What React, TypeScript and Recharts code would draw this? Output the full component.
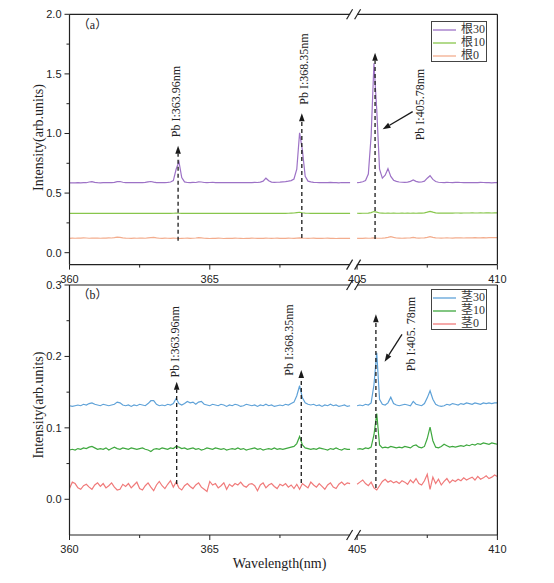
import React from 'react';
import { LineChart, Line, XAxis, YAxis, ReferenceLine, ReferenceDot, Legend } from 'recharts';

// ---------- axis / break definitions ----------
const LEFT_FROM = 360;
const LEFT_TO = 370;
const RIGHT_FROM = 405;
const RIGHT_TO = 410;
const STEP = 0.1;
const BREAK_GAP = 0.25;

const X_TICK_WL = [360, 362.5, 365, 367.5, 405, 407.5, 410];
const X_MAJOR_WL = [360, 365, 405, 410];

const Y_TICKS_A = [0, 0.25, 0.5, 0.75, 1, 1.25, 1.5, 1.75, 2];
const Y_MAJOR_A = [0, 0.5, 1, 1.5, 2];
const Y_TICKS_B = [0, 0.05, 0.1, 0.15, 0.2, 0.25, 0.3];
const Y_MAJOR_B = [0, 0.1, 0.2, 0.3];

// ---------- panel (a) : root ----------
const ROOT30_LEFT = [
  0.585, 0.586, 0.585, 0.587, 0.586, 0.588, 0.587, 0.593, 0.596, 0.590,
  0.587, 0.586, 0.588, 0.587, 0.589, 0.588, 0.590, 0.596, 0.597, 0.591,
  0.588, 0.587, 0.589, 0.588, 0.587, 0.589, 0.588, 0.590, 0.594, 0.597,
  0.592, 0.588, 0.587, 0.589, 0.588, 0.590, 0.593, 0.605, 0.700, 0.765,
  0.630, 0.594, 0.589, 0.588, 0.590, 0.589, 0.594, 0.593, 0.589, 0.588,
  0.589, 0.591, 0.588, 0.587, 0.589, 0.588, 0.587, 0.589, 0.588, 0.587,
  0.588, 0.589, 0.587, 0.588, 0.589, 0.588, 0.590, 0.589, 0.592, 0.600,
  0.625, 0.603, 0.592, 0.590, 0.591, 0.592, 0.594, 0.596, 0.600, 0.605,
  0.618, 0.700, 1.005, 0.860, 0.640, 0.600, 0.594, 0.590, 0.589, 0.588,
  0.589, 0.587, 0.588, 0.590, 0.587, 0.588, 0.586, 0.589, 0.588, 0.587,
  0.588,
];
const ROOT30_RIGHT = [
  0.588, 0.590, 0.595, 0.605, 0.660, 0.980, 1.590, 1.200, 0.700, 0.625,
  0.650, 0.705, 0.640, 0.608, 0.598, 0.593, 0.591, 0.590, 0.592, 0.598,
  0.610, 0.598, 0.592, 0.593, 0.600, 0.625, 0.646, 0.615, 0.597, 0.591,
  0.589, 0.588, 0.590, 0.589, 0.588, 0.590, 0.591, 0.589, 0.588, 0.587,
  0.588, 0.589, 0.587, 0.588, 0.590, 0.589, 0.587, 0.588, 0.586, 0.587,
  0.587,
];
const ROOT10_LEFT = [
  0.330, 0.331, 0.330, 0.330, 0.331, 0.330, 0.331, 0.330, 0.330, 0.331,
  0.330, 0.331, 0.330, 0.330, 0.331, 0.330, 0.330, 0.331, 0.330, 0.330,
  0.331, 0.330, 0.330, 0.331, 0.330, 0.330, 0.331, 0.330, 0.330, 0.331,
  0.330, 0.330, 0.331, 0.330, 0.330, 0.331, 0.330, 0.331, 0.332, 0.331,
  0.330, 0.331, 0.330, 0.330, 0.331, 0.330, 0.330, 0.331, 0.330, 0.330,
  0.331, 0.330, 0.330, 0.331, 0.330, 0.330, 0.331, 0.330, 0.330, 0.331,
  0.330, 0.330, 0.331, 0.330, 0.330, 0.331, 0.330, 0.330, 0.331, 0.330,
  0.331, 0.330, 0.330, 0.331, 0.330, 0.330, 0.331, 0.330, 0.331, 0.332,
  0.333, 0.336, 0.339, 0.335, 0.332, 0.331, 0.330, 0.331, 0.330, 0.330,
  0.331, 0.330, 0.330, 0.331, 0.330, 0.330, 0.331, 0.330, 0.330, 0.331,
  0.330,
];
const ROOT10_RIGHT = [
  0.331, 0.330, 0.331, 0.331, 0.332, 0.336, 0.345, 0.340, 0.333, 0.332,
  0.331, 0.332, 0.331, 0.332, 0.331, 0.331, 0.332, 0.331, 0.332, 0.331,
  0.332, 0.331, 0.332, 0.332, 0.334, 0.340, 0.347, 0.340, 0.334, 0.332,
  0.332, 0.333, 0.332, 0.333, 0.332, 0.333, 0.333, 0.332, 0.333, 0.333,
  0.333, 0.334, 0.333, 0.333, 0.334, 0.333, 0.334, 0.334, 0.333, 0.334,
  0.334,
];
const ROOT0_LEFT = [
  0.120, 0.122, 0.121, 0.123, 0.122, 0.124, 0.123, 0.121, 0.122, 0.123,
  0.122, 0.121, 0.123, 0.122, 0.124, 0.123, 0.126, 0.130, 0.128, 0.124,
  0.122, 0.121, 0.120, 0.122, 0.121, 0.123, 0.122, 0.121, 0.124, 0.127,
  0.128, 0.124, 0.121, 0.120, 0.122, 0.121, 0.120, 0.122, 0.121, 0.119,
  0.120, 0.121, 0.122, 0.120, 0.121, 0.123, 0.126, 0.124, 0.121, 0.120,
  0.119, 0.121, 0.120, 0.122, 0.121, 0.119, 0.120, 0.121, 0.120, 0.122,
  0.121, 0.120, 0.119, 0.121, 0.120, 0.122, 0.121, 0.120, 0.121, 0.120,
  0.122, 0.121, 0.120, 0.121, 0.122, 0.120, 0.121, 0.120, 0.122, 0.121,
  0.120, 0.122, 0.124, 0.122, 0.121, 0.120, 0.121, 0.122, 0.120, 0.121,
  0.120, 0.121, 0.122, 0.120, 0.121, 0.119, 0.120, 0.121, 0.120, 0.121,
  0.120,
];
const ROOT0_RIGHT = [
  0.120, 0.121, 0.120, 0.122, 0.121, 0.122, 0.124, 0.122, 0.121, 0.122,
  0.124, 0.129, 0.135, 0.128, 0.123, 0.122, 0.121, 0.122, 0.123, 0.124,
  0.129, 0.124, 0.122, 0.123, 0.124, 0.129, 0.135, 0.128, 0.124, 0.123,
  0.122, 0.123, 0.124, 0.123, 0.122, 0.124, 0.125, 0.124, 0.123, 0.125,
  0.124, 0.125, 0.126, 0.125, 0.124, 0.126, 0.125, 0.126, 0.127, 0.126,
  0.127,
];

// ---------- panel (b) : stem ----------
const STEM30_LEFT = [
  0.131, 0.130, 0.131, 0.132, 0.131, 0.133, 0.132, 0.134, 0.135, 0.133,
  0.132, 0.131, 0.133, 0.132, 0.131, 0.132, 0.133, 0.136, 0.135, 0.132,
  0.131, 0.132, 0.130, 0.132, 0.131, 0.133, 0.132, 0.131, 0.134, 0.138,
  0.138, 0.133, 0.131, 0.132, 0.131, 0.133, 0.132, 0.134, 0.141, 0.134,
  0.132, 0.134, 0.137, 0.135, 0.136, 0.133, 0.136, 0.137, 0.133, 0.132,
  0.131, 0.133, 0.132, 0.131, 0.133, 0.132, 0.130, 0.132, 0.131, 0.133,
  0.132, 0.130, 0.131, 0.133, 0.132, 0.131, 0.132, 0.130, 0.132, 0.131,
  0.133, 0.131, 0.132, 0.130, 0.131, 0.132, 0.131, 0.133, 0.132, 0.134,
  0.136, 0.145, 0.159, 0.142, 0.135, 0.133, 0.132, 0.133, 0.131, 0.132,
  0.130, 0.132, 0.131, 0.133, 0.131, 0.132, 0.130, 0.131, 0.132, 0.130,
  0.131,
];
const STEM30_RIGHT = [
  0.131, 0.132, 0.131, 0.133, 0.132, 0.135, 0.160, 0.205, 0.140, 0.133,
  0.132, 0.135, 0.143, 0.134, 0.132, 0.131, 0.132, 0.133, 0.132, 0.131,
  0.137, 0.133, 0.132, 0.131, 0.134, 0.142, 0.152, 0.140, 0.133, 0.131,
  0.130, 0.131, 0.133, 0.132, 0.134, 0.133, 0.132, 0.134, 0.133, 0.135,
  0.134, 0.133, 0.135, 0.134, 0.133, 0.135, 0.134, 0.135, 0.134, 0.135,
  0.135,
];
const STEM10_LEFT = [
  0.069, 0.070, 0.069, 0.071, 0.070, 0.072, 0.071, 0.073, 0.074, 0.072,
  0.070, 0.071, 0.070, 0.072, 0.069, 0.071, 0.073, 0.071, 0.070, 0.072,
  0.071, 0.070, 0.072, 0.071, 0.070, 0.071, 0.072, 0.070, 0.069, 0.067,
  0.070, 0.071, 0.070, 0.072, 0.071, 0.070, 0.072, 0.071, 0.074, 0.073,
  0.071, 0.072, 0.070, 0.071, 0.072, 0.070, 0.071, 0.069, 0.070, 0.072,
  0.071, 0.070, 0.072, 0.071, 0.070, 0.071, 0.069, 0.070, 0.071, 0.070,
  0.072, 0.070, 0.071, 0.069, 0.070, 0.071, 0.072, 0.070, 0.071, 0.069,
  0.070, 0.071, 0.070, 0.072, 0.070, 0.071, 0.070, 0.071, 0.072, 0.073,
  0.074, 0.078, 0.088, 0.076, 0.072, 0.071, 0.070, 0.071, 0.070, 0.072,
  0.071, 0.070, 0.069, 0.071, 0.070, 0.072, 0.070, 0.069, 0.071, 0.070,
  0.070,
];
const STEM10_RIGHT = [
  0.070, 0.071, 0.070, 0.072, 0.071, 0.073, 0.090, 0.120, 0.076, 0.072,
  0.073, 0.072, 0.074, 0.073, 0.072, 0.073, 0.072, 0.074, 0.073, 0.072,
  0.075, 0.076, 0.073, 0.072, 0.074, 0.085, 0.101, 0.082, 0.073, 0.072,
  0.074, 0.077, 0.075, 0.073, 0.074, 0.073, 0.074, 0.075, 0.074, 0.076,
  0.075, 0.077, 0.076, 0.078, 0.077, 0.079, 0.078, 0.077, 0.079, 0.078,
  0.077,
];
const STEM0_LEFT = [
  0.015, 0.024, 0.022, 0.016, 0.014, 0.019, 0.021, 0.017, 0.014, 0.020,
  0.023, 0.018, 0.022, 0.016, 0.019, 0.023, 0.017, 0.013, 0.014, 0.021,
  0.018, 0.022, 0.016, 0.020, 0.024, 0.015, 0.013, 0.019, 0.023, 0.017,
  0.012, 0.020, 0.025, 0.019, 0.015, 0.021, 0.026, 0.017, 0.024, 0.016,
  0.013, 0.019, 0.022, 0.018, 0.015, 0.020, 0.023, 0.017, 0.014, 0.011,
  0.025, 0.020, 0.022, 0.016, 0.019, 0.023, 0.014, 0.021, 0.018, 0.022,
  0.020, 0.024, 0.019, 0.017, 0.021, 0.022, 0.019, 0.012, 0.020, 0.023,
  0.016, 0.020, 0.022, 0.018, 0.015, 0.021, 0.019, 0.022, 0.017, 0.020,
  0.015, 0.021, 0.014, 0.022, 0.019, 0.016, 0.024, 0.020, 0.017, 0.022,
  0.018, 0.014, 0.020, 0.023, 0.017, 0.015, 0.021, 0.024, 0.020, 0.023,
  0.022,
];
const STEM0_RIGHT = [
  0.021, 0.024, 0.027, 0.022, 0.019, 0.024, 0.016, 0.013, 0.019, 0.025,
  0.028, 0.024, 0.026, 0.023, 0.025, 0.022, 0.026, 0.024, 0.021, 0.027,
  0.023, 0.029, 0.022, 0.020, 0.026, 0.035, 0.014, 0.031, 0.022, 0.028,
  0.020, 0.025, 0.029, 0.023, 0.027, 0.025, 0.028, 0.026, 0.030, 0.027,
  0.029, 0.031, 0.027, 0.032, 0.028, 0.030, 0.033, 0.029, 0.031, 0.034,
  0.032,
];

const SERIES_A_NAMES = ['根30', '根10', '根0'];
const SERIES_A_COLORS = ['#9d72c6', '#88c64c', '#f3ad8e'];
const SERIES_B_NAMES = ['茎30', '茎10', '茎0'];
const SERIES_B_COLORS = ['#5fa2d8', '#3fa83f', '#f07a7a'];

// annotations (wavelength, intensity)
const ARROWS_A = [
  { wl: 363.87, from: 0.10, to: 0.898 },
  { wl: 368.28, from: 0.123, to: 1.169 },
  { wl: 405.64, from: 0.115, to: 1.678 },
];
const LABELS_A = [
  { wl: 363.81, v: 1.268, text: 'Pb I:363.96nm' },
  { wl: 368.36, v: 1.541, text: 'Pb I:368.35nm' },
  { wl: 407.23, v: 1.242, text: 'Pb I:405.78nm' },
];
const POINTER_A = { wl1: 406.98, v1: 1.183, wl2: 405.91, v2: 1.035 };

const ARROWS_B = [
  { wl: 363.82, from: 0.0214, to: 0.1646 },
  { wl: 368.26, from: 0.0228, to: 0.181 },
  { wl: 405.67, from: 0.0158, to: 0.259 },
];
const LABELS_B = [
  { wl: 363.77, v: 0.2206, text: 'Pb I:363.96nm' },
  { wl: 367.83, v: 0.223, text: 'Pb I:368.35nm' },
  { wl: 406.92, v: 0.2314, text: 'Pb I:405. 78nm' },
];
const POINTER_B = { wl1: 406.6, v1: 0.231, wl2: 405.98, v2: 0.1926 };

// ---------- helpers ----------
const SERIF = '"Liberation Serif", "Times New Roman", "Noto Sans CJK SC", serif';
const SANS = '"Liberation Sans", Arial, sans-serif';
const AXIS = '#222';

const round2 = (v: number) => Math.round(v * 100) / 100;
const toPos = (w: number) =>
  w <= LEFT_TO + 1e-6 ? w - LEFT_FROM : w - RIGHT_FROM + (LEFT_TO - LEFT_FROM) + BREAK_GAP;
const X_MAX = toPos(RIGHT_TO);
const SEG_END = LEFT_TO - LEFT_FROM;
const SEG_START = SEG_END + BREAK_GAP;
const BREAK_POS = SEG_END + BREAK_GAP / 2;

type Series = { key: string; name: string; color: string; left: number[]; right: number[] };

function buildRows(series: Series[]) {
  const rows: any[] = [];
  series[0].left.forEach((_, i) => {
    const row: any = { x: toPos(round2(LEFT_FROM + i * STEP)) };
    series.forEach((s) => (row[s.key] = s.left[i]));
    rows.push(row);
  });
  const gap: any = { x: BREAK_POS };
  series.forEach((s) => (gap[s.key] = null));
  rows.push(gap);
  series[0].right.forEach((_, i) => {
    const row: any = { x: toPos(round2(RIGHT_FROM + i * STEP)) };
    series.forEach((s) => (row[s.key] = s.right[i]));
    rows.push(row);
  });
  return rows;
}

const SERIES_A: Series[] = [
  { key: 'a30', name: SERIES_A_NAMES[0], color: SERIES_A_COLORS[0], left: ROOT30_LEFT, right: ROOT30_RIGHT },
  { key: 'a10', name: SERIES_A_NAMES[1], color: SERIES_A_COLORS[1], left: ROOT10_LEFT, right: ROOT10_RIGHT },
  { key: 'a0', name: SERIES_A_NAMES[2], color: SERIES_A_COLORS[2], left: ROOT0_LEFT, right: ROOT0_RIGHT },
];
const SERIES_B: Series[] = [
  { key: 'b30', name: SERIES_B_NAMES[0], color: SERIES_B_COLORS[0], left: STEM30_LEFT, right: STEM30_RIGHT },
  { key: 'b10', name: SERIES_B_NAMES[1], color: SERIES_B_COLORS[1], left: STEM10_LEFT, right: STEM10_RIGHT },
  { key: 'b0', name: SERIES_B_NAMES[2], color: SERIES_B_COLORS[2], left: STEM0_LEFT, right: STEM0_RIGHT },
];

const XTick = (props: any) => {
  const { x, y, payload } = props;
  const idx = X_TICK_WL.findIndex((w) => Math.abs(toPos(w) - payload.value) < 1e-6);
  const wl = idx >= 0 ? X_TICK_WL[idx] : null;
  const major = wl !== null && X_MAJOR_WL.includes(wl);
  return (
    <g>
      <line x1={x} y1={y} x2={x} y2={y + (major ? 5 : 3)} stroke={AXIS} strokeWidth={1} />
      {major && (
        <text x={x} y={y + 14} textAnchor="middle" dominantBaseline="central" fontFamily={SANS} fontSize={11} fill="#222">
          {String(wl)}
        </text>
      )}
    </g>
  );
};

const makeYTick = (majors: number[]) => (props: any) => {
  const { x, y, payload } = props;
  const v = payload.value;
  const major = majors.some((m) => Math.abs(m - v) < 1e-6);
  return (
    <g>
      <line x1={x} y1={y} x2={x - (major ? 5 : 3)} y2={y} stroke={AXIS} strokeWidth={1} />
      {major && (
        <text x={x - 8} y={y} textAnchor="end" dominantBaseline="central" fontFamily={SANS} fontSize={11} fill="#222">
          {v.toFixed(1)}
        </text>
      )}
    </g>
  );
};

const arrowShape = (dashed: boolean) => (p: any) => {
  const { x1, y1, x2, y2 } = p;
  const dx = x2 - x1;
  const dy = y2 - y1;
  const len = Math.hypot(dx, dy) || 1;
  const ux = dx / len;
  const uy = dy / len;
  const hl = 8;
  const hw = 2.8;
  const bx = x2 - ux * hl;
  const by = y2 - uy * hl;
  return (
    <g>
      <line x1={x1} y1={y1} x2={bx} y2={by} stroke="#1a1a1a" strokeWidth={1.3} strokeDasharray={dashed ? '4 3' : undefined} />
      <polygon
        points={`${x2},${y2} ${bx - uy * hw},${by + ux * hw} ${bx + uy * hw},${by - ux * hw}`}
        fill="#1a1a1a"
      />
    </g>
  );
};

const rotatedText = (text: string) => (p: any) => (
  <text
    x={p.cx}
    y={p.cy}
    transform={`rotate(-90 ${p.cx} ${p.cy})`}
    textAnchor="middle"
    dominantBaseline="central"
    fontFamily={SERIF}
    fontSize={12}
    fill="#222"
  >
    {text}
  </text>
);

const plainText = (text: string) => (p: any) => (
  <text x={p.cx} y={p.cy} textAnchor="middle" dominantBaseline="central" fontFamily={SERIF} fontSize={12} fill="#222">
    {text}
  </text>
);

const breakShape = (p: any) => {
  const { cx, cy } = p;
  return (
    <g>
      {[-4, 4].map((d) => (
        <line key={d} x1={cx + d - 3} y1={cy + 5} x2={cx + d + 3} y2={cy - 5} stroke={AXIS} strokeWidth={1.2} />
      ))}
    </g>
  );
};

const LegendBox = ({ series }: { series: Series[] }) => (
  <div
    style={{
      border: '1.5px solid #444',
      background: '#fff',
      boxSizing: 'border-box',
      width: 56,
      height: 41,
      padding: '1px 0 0 1px',
      whiteSpace: 'nowrap',
      overflow: 'hidden',
    }}
  >
    {series.map((s) => (
      <div key={s.key} style={{ display: 'flex', alignItems: 'center', height: 13, whiteSpace: 'nowrap' }}>
        <svg width={23} height={4} style={{ display: 'block', flex: 'none' }}>
          <line x1={0} y1={2} x2={23} y2={2} stroke={s.color} strokeWidth={1.3} />
        </svg>
        <span style={{ marginLeft: 5, fontFamily: SERIF, fontSize: 12, lineHeight: '13px', color: '#333', whiteSpace: 'nowrap' }}>
          {s.name}
        </span>
      </div>
    ))}
  </div>
);

type PanelProps = {
  height: number;
  margin: { top: number; right: number; bottom: number; left: number };
  xAxisHeight: number;
  series: Series[];
  yDomain: [number, number];
  yTicks: number[];
  yMajor: number[];
  arrows: { wl: number; from: number; to: number }[];
  labels: { wl: number; v: number; text: string }[];
  pointer: { wl1: number; v1: number; wl2: number; v2: number };
  panelLabel: string;
  panelLabelAt: { wl: number; v: number };
  legendTop: number;
  yTitleAt: { x: number; y: number };
  xTitleAt?: { x: number; y: number };
};

function Panel(props: PanelProps) {
  const rows = buildRows(props.series);
  const [ymin, ymax] = props.yDomain;
  const frame = { stroke: AXIS, strokeWidth: 1.2, ifOverflow: 'visible' as const };
  return (
    <LineChart width={554} height={props.height} data={rows} margin={props.margin}>
      <XAxis
        type="number"
        dataKey="x"
        domain={[0, X_MAX]}
        ticks={X_TICK_WL.map(toPos)}
        interval={0}
        allowDataOverflow
        axisLine={false}
        tickLine={false}
        tickSize={0}
        tickMargin={0}
        height={props.xAxisHeight}
        tick={XTick}
        label={
          props.xTitleAt
            ? {
                content: () => (
                  <text
                    x={props.xTitleAt!.x}
                    y={props.xTitleAt!.y}
                    textAnchor="middle"
                    dominantBaseline="central"
                    fontFamily={SERIF}
                    fontSize={14}
                    fill="#222"
                  >
                    Wavelength(nm)
                  </text>
                ),
              }
            : undefined
        }
      />
      <YAxis
        type="number"
        domain={props.yDomain}
        ticks={props.yTicks}
        interval={0}
        allowDataOverflow
        axisLine={false}
        tickLine={false}
        tickSize={0}
        tickMargin={0}
        width={50}
        tick={makeYTick(props.yMajor)}
        label={{
          content: () => (
            <text
              x={props.yTitleAt.x}
              y={props.yTitleAt.y}
              transform={`rotate(-90 ${props.yTitleAt.x} ${props.yTitleAt.y})`}
              textAnchor="middle"
              dominantBaseline="central"
              fontFamily={SERIF}
              fontSize={14}
              fill="#222"
            >
              Intensity(arb.units)
            </text>
          ),
        }}
      />
      <Legend
        layout="vertical"
        align="center"
        verticalAlign="middle"
        content={() => <LegendBox series={props.series} />}
        wrapperStyle={{ position: 'absolute', left: 431, top: props.legendTop, width: 56, height: 41 }}
      />
      {props.series.map((s) => (
        <Line
          key={s.key}
          type="linear"
          dataKey={s.key}
          name={s.name}
          stroke={s.color}
          strokeWidth={1.2}
          dot={false}
          activeDot={false}
          connectNulls={false}
          isAnimationActive={false}
        />
      ))}
      {/* frame */}
      <ReferenceLine x={0} {...frame} />
      <ReferenceLine x={X_MAX} {...frame} />
      <ReferenceLine segment={[{ x: 0, y: ymax }, { x: SEG_END, y: ymax }]} {...frame} />
      <ReferenceLine segment={[{ x: SEG_START, y: ymax }, { x: X_MAX, y: ymax }]} {...frame} />
      <ReferenceLine segment={[{ x: 0, y: ymin }, { x: SEG_END, y: ymin }]} {...frame} />
      <ReferenceLine segment={[{ x: SEG_START, y: ymin }, { x: X_MAX, y: ymin }]} {...frame} />
      <ReferenceDot x={BREAK_POS} y={ymax} r={1} ifOverflow="visible" shape={breakShape} />
      <ReferenceDot x={BREAK_POS} y={ymin} r={1} ifOverflow="visible" shape={breakShape} />
      {/* annotations */}
      {props.arrows.map((a, i) => (
        <ReferenceLine
          key={'ar' + i}
          segment={[{ x: toPos(a.wl), y: a.from }, { x: toPos(a.wl), y: a.to }]}
          ifOverflow="visible"
          shape={arrowShape(true)}
        />
      ))}
      <ReferenceLine
        segment={[
          { x: toPos(props.pointer.wl1), y: props.pointer.v1 },
          { x: toPos(props.pointer.wl2), y: props.pointer.v2 },
        ]}
        ifOverflow="visible"
        shape={arrowShape(false)}
      />
      {props.labels.map((l, i) => (
        <ReferenceDot key={'lb' + i} x={toPos(l.wl)} y={l.v} r={1} ifOverflow="visible" shape={rotatedText(l.text)} />
      ))}
      <ReferenceDot
        x={toPos(props.panelLabelAt.wl)}
        y={props.panelLabelAt.v}
        r={1}
        ifOverflow="visible"
        shape={plainText(props.panelLabel)}
      />
    </LineChart>
  );
}

export default function App() {
  return (
    <div style={{ position: 'absolute', left: 0, top: 0, width: 554, height: 583, background: '#fff', overflow: 'hidden' }}>
      <div style={{ position: 'absolute', left: 0, top: 0 }}>
        <Panel
          height={290}
          margin={{ top: 14.3, right: 56.6, bottom: 0.4, left: 19.5 }}
          xAxisHeight={25}
          series={SERIES_A}
          yDomain={[-0.1, 2.0]}
          yTicks={Y_TICKS_A}
          yMajor={Y_MAJOR_A}
          arrows={ARROWS_A}
          labels={LABELS_A}
          pointer={POINTER_A}
          panelLabel="（a）"
          panelLabelAt={{ wl: 360.82, v: 1.91 }}
          legendTop={21}
          yTitleAt={{ x: 38.8, y: 137.5 }}
        />
      </div>
      <div style={{ position: 'absolute', left: 0, top: 280 }}>
        <Panel
          height={303}
          margin={{ top: 5, right: 56.6, bottom: 18, left: 19.5 }}
          xAxisHeight={30}
          series={SERIES_B}
          yDomain={[-0.05, 0.3]}
          yTicks={Y_TICKS_B}
          yMajor={Y_MAJOR_B}
          arrows={ARROWS_B}
          labels={LABELS_B}
          pointer={POINTER_B}
          panelLabel="（b）"
          panelLabelAt={{ wl: 360.82, v: 0.286 }}
          legendTop={9}
          yTitleAt={{ x: 38.8, y: 125 }}
          xTitleAt={{ x: 279.5, y: 283.3 }}
        />
      </div>
    </div>
  );
}
